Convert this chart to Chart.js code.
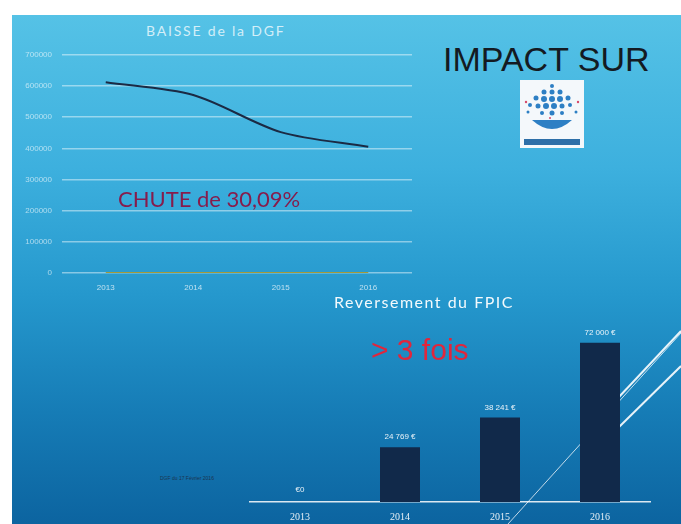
<!DOCTYPE html>
<html>
<head>
<meta charset="utf-8">
<script src="https://cdn.jsdelivr.net/npm/chart.js@4"></script>
<style>
  html, body { margin: 0; padding: 0; background: #fff; }
  #page { position: relative; width: 681px; height: 524px; overflow: hidden; background: #fff; }
  #slide {
    position: absolute; left: 12px; top: 15px; right: 0; bottom: 0;
    background: linear-gradient(180deg, #55c2e6 0%, #3db0de 30%, #2598cd 55%, #167cb6 78%, #0c64a0 100%);
  }
  .txt { position: absolute; white-space: nowrap; }
  #t1 { left: 146px; top: 22px; font: 14px Lato, "DejaVu Sans", sans-serif; letter-spacing: 1.8px; color: rgba(255,255,255,0.75); }
  #t2 { left: 334px; top: 292px; font: 16px Lato, "DejaVu Sans", sans-serif; letter-spacing: 1.5px; color: rgba(255,255,255,0.95); }
  #impact { left: 443px; top: 42px; font: 34px/34px "Liberation Sans", Arial, sans-serif; color: #141a22; }
  #chute { left: 118px; top: 185px; font: 22px Lato, "DejaVu Sans", sans-serif; color: #861c4c; }
  #fois { left: 371px; top: 335px; font: 30px/30px "Liberation Sans", Arial, sans-serif; color: #e0263c; }
  #src { left: 160px; top: 475px; font: 5px "Liberation Sans", Arial, sans-serif; color: #1b3550; }
  #lineWrap { position: absolute; left: 0; top: 40px; width: 430px; height: 260px; }
  #barWrap { position: absolute; left: 240px; top: 290px; width: 441px; height: 234px; }
  svg { position: absolute; }
</style>
</head>
<body>
<div id="page">
  <div id="slide"></div>
  <svg width="681" height="524" style="left:0;top:0">
    <line x1="508" y1="524" x2="681" y2="333" stroke="rgba(255,255,255,0.75)" stroke-width="1"/>
    <line x1="618" y1="398" x2="681" y2="331" stroke="rgba(255,255,255,0.9)" stroke-width="2"/>
    <line x1="618" y1="428" x2="681" y2="366" stroke="rgba(255,255,255,0.9)" stroke-width="2"/>
  </svg>
  <svg width="64" height="68" style="left:520px;top:80px">
    <rect x="0" y="0" width="64" height="68" fill="#f4f8fb"/>
    <g fill="#2d7fc4">
      <circle cx="32" cy="6" r="2"/>
      <circle cx="24" cy="12" r="2.5"/><circle cx="32" cy="12" r="2.5"/><circle cx="40" cy="12" r="2.5"/>
      <circle cx="16" cy="18" r="2.5"/><circle cx="24" cy="19" r="3"/><circle cx="32" cy="19" r="3"/><circle cx="40" cy="19" r="3"/><circle cx="48" cy="18" r="2.5"/>
      <circle cx="10" cy="25" r="2"/><circle cx="18" cy="26" r="2.5"/><circle cx="26" cy="26" r="3"/><circle cx="34" cy="26" r="3"/><circle cx="42" cy="26" r="2.5"/><circle cx="50" cy="25" r="2"/>
      <circle cx="8" cy="32" r="1.5"/><circle cx="22" cy="33" r="2"/><circle cx="32" cy="33" r="2.5"/><circle cx="42" cy="33" r="2"/><circle cx="56" cy="32" r="1.5"/>
      <path d="M12 40 Q32 58 52 40 Z"/>
    </g>
    <g fill="#d84a6a"><circle cx="6" cy="22" r="1.2"/><circle cx="58" cy="22" r="1.2"/><circle cx="30" cy="38" r="1"/></g>
    <rect x="4" y="59" width="56" height="6" fill="#2d6fa8"/>
  </svg>
  <div id="lineWrap"><canvas id="lineChart"></canvas></div>
  <div id="barWrap"><canvas id="barChart"></canvas></div>
  <div class="txt" id="t1">BAISSE de la DGF</div>
  <div class="txt" id="t2">Reversement du FPIC</div>
  <div class="txt" id="impact">IMPACT SUR</div>
  <div class="txt" id="chute">CHUTE de 30,09%</div>
  <div class="txt" id="fois">&gt; 3 fois</div>
  <div class="txt" id="src">DGF du 17 Février 2016</div>
</div>
<script>
// DGF chart
const years = ['2013', '2014', '2015', '2016'];
const dgfValues = [612000, 571000, 452000, 405000];
const dgfZero = [0, 0, 0, 0];
const dgfTicks = [0, 100000, 200000, 300000, 400000, 500000, 600000, 700000];

// FPIC chart
const fpicValues = [0, 24769, 38241, 72000];
const fpicLabels = ['€0', '24 769 €', '38 241 €', '72 000 €'];

Chart.defaults.animation = false;

new Chart(document.getElementById('lineChart'), {
    type: 'line',
    data: {
        labels: years,
        datasets: [{
            data: dgfValues,
            borderColor: '#1b2a44',
            borderWidth: 2,
            tension: 0.3,
            pointRadius: 0
        }, {
            data: dgfZero,
            borderColor: '#a39a3a',
            borderWidth: 2,
            pointRadius: 0
        }]
    },
    options: {
        responsive: true,
        maintainAspectRatio: false,
        layout: { padding: { top: 12, right: 18, left: 0, bottom: 0 } },
        plugins: { legend: { display: false }, tooltip: { enabled: false } },
        scales: {
            x: {
                offset: true,
                grid: { display: false },
                border: { display: false },
                ticks: { color: 'rgba(255,255,255,0.7)', font: { size: 8 }, padding: 2 },
                afterFit: (a) => { a.height = 27; }
            },
            y: {
                min: 0,
                max: 700000,
                afterBuildTicks: (a) => { a.ticks = dgfTicks.map(v => ({ value: v })); },
                grid: { color: 'rgba(255,255,255,0.45)', lineWidth: 1.5, drawTicks: false },
                border: { display: false },
                ticks: {
                    color: 'rgba(255,255,255,0.6)',
                    font: { size: 8 },
                    padding: 10,
                    callback: (v) => String(v)
                },
                afterFit: (a) => { a.width = 62; }
            }
        }
    }
});

const barLabelPlugin = {
    id: 'barLabels',
    afterDatasetsDraw(chart) {
        const ctx = chart.ctx;
        const meta = chart.getDatasetMeta(0);
        ctx.save();
        ctx.fillStyle = 'rgba(255,255,255,0.9)';
        ctx.font = '8px "Liberation Sans", Arial, sans-serif';
        ctx.textAlign = 'center';
        ctx.textBaseline = 'bottom';
        meta.data.forEach((bar, i) => {
            const dy = fpicValues[i] === 0 ? 8 : 6;
            ctx.fillText(fpicLabels[i], bar.x, bar.y - dy);
        });
        ctx.restore();
    }
};

new Chart(document.getElementById('barChart'), {
    type: 'bar',
    data: {
        labels: years,
        datasets: [{
            data: fpicValues,
            backgroundColor: '#11294a',
            barPercentage: 0.4,
            categoryPercentage: 1
        }]
    },
    options: {
        responsive: true,
        maintainAspectRatio: false,
        layout: { padding: { top: 35, right: 31, left: 10, bottom: 0 } },
        plugins: { legend: { display: false }, tooltip: { enabled: false } },
        scales: {
            x: {
                grid: { display: false },
                border: { display: true, color: 'rgba(255,255,255,0.85)', width: 1.5 },
                ticks: { color: 'rgba(255,255,255,0.9)', font: { size: 10, family: 'Liberation Serif' }, padding: 1 },
                afterFit: (a) => { a.height = 22; }
            },
            y: {
                display: false,
                min: 0,
                max: 80000
            }
        }
    },
    plugins: [barLabelPlugin]
});
</script>
</body>
</html>
